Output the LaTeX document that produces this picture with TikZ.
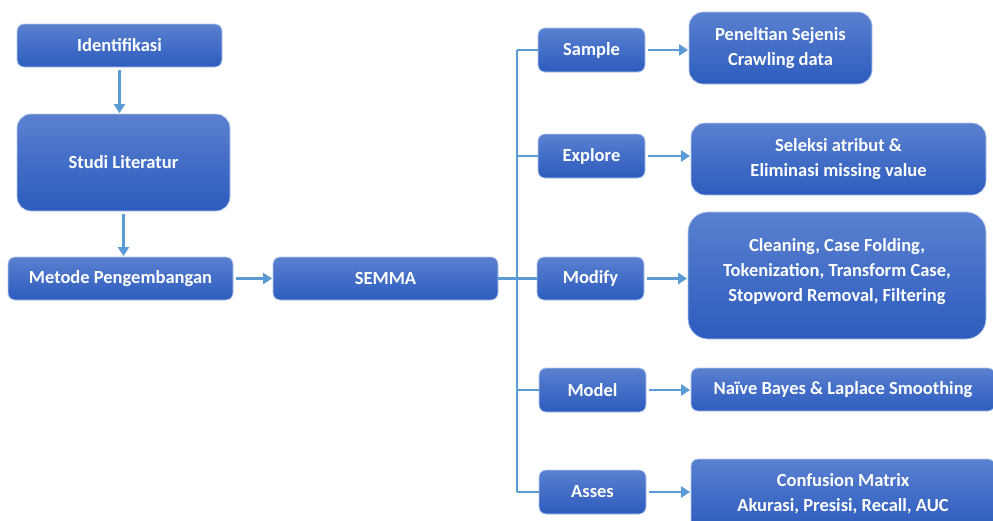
\documentclass[tikz,border=0pt]{standalone}
\usepackage{fontspec}
\setmainfont{Carlito}
\usetikzlibrary{arrows.meta}

\definecolor{boxtop}{HTML}{5A80D0}
\definecolor{boxbot}{HTML}{2C5CBE}
\definecolor{boxedge}{HTML}{B4C7EA}
\definecolor{linkblue}{HTML}{5B9BD5}

\begin{document}
\begin{tikzpicture}[
        x=1pt, y=-1pt,
        % Styles des boites
        stagebox/.style={rectangle, rounded corners=7pt, draw=boxedge, line width=0.8pt,
            top color=boxtop, bottom color=boxbot, text=white, align=center, inner sep=0pt,
            font=\bfseries\fontsize{18.5}{25}\selectfont},
        detailbox/.style={stagebox, rounded corners=14pt},
        % Style des liaisons
        link/.style={draw=linkblue, line width=2.8pt},
        linkarrow/.style={link, -{Triangle[length=9pt,width=11pt]}, shorten <=3pt, shorten >=0.5pt}
    ]

    \useasboundingbox (0,0) rectangle (993,520);

    % Colonne de gauche
    \node[stagebox, minimum width=205pt, minimum height=43pt] (ident) at (119.5,45.5) {Identifikasi};
    \node[stagebox, rounded corners=14pt, minimum width=213pt, minimum height=97pt] (studi) at (123.5,162.5) {Studi Literatur};
    \node[stagebox, minimum width=225pt, minimum height=43pt] (metode) at (120.5,278.5) {Metode Pengembangan};
    \node[stagebox, minimum width=225pt, minimum height=43pt] (semma) at (385.5,278.5) {SEMMA};

    % Etapes SEMMA
    \node[stagebox, minimum width=107pt, minimum height=44pt] (sample) at (591.5,50) {Sample};
    \node[stagebox, minimum width=107pt, minimum height=44pt] (explore) at (591.5,156) {Explore};
    \node[stagebox, minimum width=107pt, minimum height=43pt] (modify) at (590.5,278.5) {Modify};
    \node[stagebox, minimum width=107pt, minimum height=44pt] (model) at (592.5,390) {Model};
    \node[stagebox, minimum width=107pt, minimum height=44pt] (asses) at (592.5,492) {Asses};

    % Details
    \node[detailbox, minimum width=183pt, minimum height=72pt] (penel) at (780.5,48) {Peneltian Sejenis\\Crawling data};
    \node[detailbox, minimum width=295pt, minimum height=72pt] (seleksi) at (838.5,159) {Seleksi atribut \&\\Eliminasi missing value};
    \node[detailbox, rounded corners=20pt, minimum width=298pt, minimum height=127pt] (clean) at (837,275.5) {Cleaning, Case Folding,\\Tokenization, Transform Case,\\Stopword Removal, Filtering\\[-14pt]};
    \node[stagebox, minimum width=304pt, minimum height=43pt] (naive) at (843,389.5) {Naïve Bayes \& Laplace Smoothing};
    \node[stagebox, minimum width=304pt, minimum height=70pt] (confusion) at (843,494) {Confusion Matrix\\Akurasi, Presisi, Recall, AUC};

    % Fleches de gauche
    \draw[linkarrow] (ident.south) -- (ident.south |- studi.north);
    \draw[linkarrow] (studi.south) -- (studi.south |- metode.north);
    \draw[linkarrow] (metode.east) -- (semma.west);

    % Tronc SEMMA
    \coordinate (trunk) at (517,278.5);
    \draw[link] (semma.east) -- (trunk);
    \draw[link] (trunk |- sample) -- (trunk |- asses);
    \foreach \stage in {sample, explore, modify, model, asses}
        \draw[link] (trunk |- \stage) -- (\stage.west);

    % Fleches vers les details
    \draw[linkarrow] (sample.east) -- (sample.east -| penel.west);
    \draw[linkarrow] (explore.east) -- (explore.east -| seleksi.west);
    \draw[linkarrow] (modify.east) -- (modify.east -| clean.west);
    \draw[linkarrow] (model.east) -- (model.east -| naive.west);
    \draw[linkarrow] (asses.east) -- (asses.east -| confusion.west);

\end{tikzpicture}
\end{document}
